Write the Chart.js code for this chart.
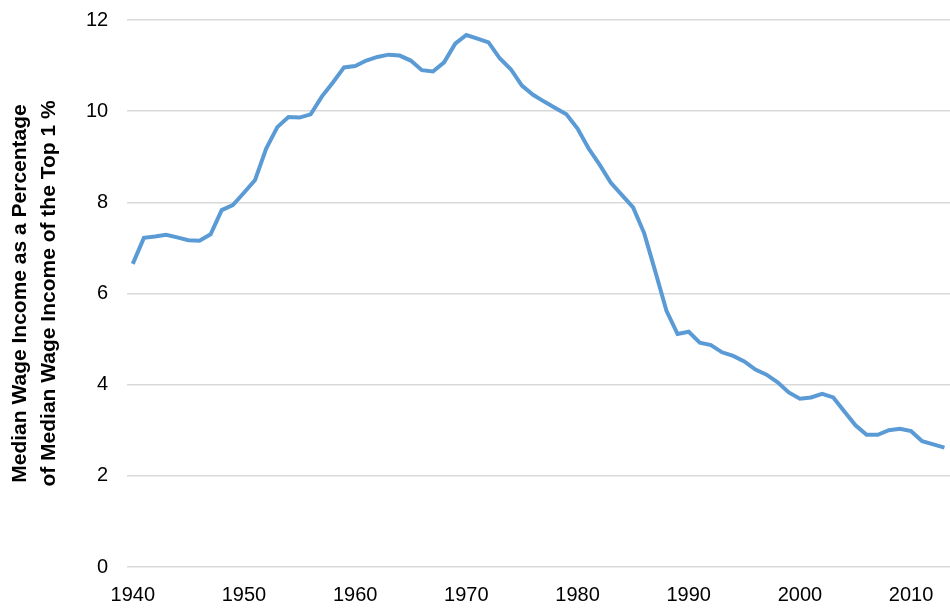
<!DOCTYPE html>
<html>
<head>
<meta charset="utf-8">
<script src="https://cdn.jsdelivr.net/npm/chart.js@4/dist/chart.umd.min.js"></script>
<style>
  html, body { margin: 0; padding: 0; background: #fff; }
  #marco { width: 950px; height: 612px; overflow: hidden; }
  #wrap { width: 950px; height: 626px; margin-top: -11px; }
</style>
</head>
<body>
<div id="marco"><div id="wrap"><canvas id="grafica"></canvas></div></div>
<script>
const years = [];
for (let y = 1940; y <= 2013; y++) years.push(y);

const medianPct = [
  6.65, 7.22, 7.25, 7.29, 7.23, 7.17, 7.16, 7.30, 7.83, 7.94,
  8.21, 8.49, 9.18, 9.65, 9.87, 9.86, 9.93, 10.32, 10.63, 10.96,
  10.99, 11.11, 11.19, 11.24, 11.22, 11.11, 10.90, 10.87, 11.07, 11.48,
  11.67, 11.59, 11.51, 11.16, 10.92, 10.56, 10.36, 10.21, 10.07, 9.93,
  9.62, 9.18, 8.82, 8.43, 8.16, 7.89, 7.32, 6.48, 5.62, 5.11,
  5.16, 4.92, 4.87, 4.71, 4.63, 4.51, 4.33, 4.22, 4.05, 3.83,
  3.69, 3.72, 3.80, 3.72, 3.41, 3.11, 2.90, 2.90, 3.00, 3.03,
  2.98, 2.76, 2.69, 2.62
];

const yTitle = ['Median Wage Income as a Percentage', 'of Median Wage Income of the Top 1 %'];

Chart.defaults.font.family = '"Liberation Sans", Arial, Helvetica, sans-serif';
Chart.defaults.color = '#000';

new Chart(document.getElementById('grafica'), {
  type: 'line',
  data: {
    labels: years,
    datasets: [{
      data: medianPct,
      borderColor: '#5b9bd5',
      borderWidth: 4,
      pointRadius: 0,
      tension: 0,
      fill: false
    }]
  },
  options: {
    responsive: true,
    maintainAspectRatio: false,
    animation: false,
    layout: { padding: { top: 0, right: 0, left: 6, bottom: 0 } },
    plugins: { legend: { display: false }, tooltip: { enabled: false } },
    scales: {
      x: {
        type: 'category',
        offset: true,
        grid: { display: false },
        border: { display: false },
        ticks: {
          autoSkip: false,
          maxRotation: 0,
          font: { size: 20 },
          padding: 8,
          callback: function (val, i) {
            const yr = years[i];
            return yr % 10 === 0 ? String(yr) : null;
          }
        }
      },
      y: {
        min: 0,
        max: 12,
        grid: { color: '#d9d9d9', lineWidth: 1.5, drawTicks: false },
        border: { display: false },
        ticks: { stepSize: 2, font: { size: 20 }, padding: 19 },
        title: {
          display: true,
          text: yTitle,
          font: { size: 21, weight: 'bold', lineHeight: 1.38 },
          padding: { top: 0, bottom: 3 }
        }
      }
    }
  }
});
</script>
</body>
</html>
